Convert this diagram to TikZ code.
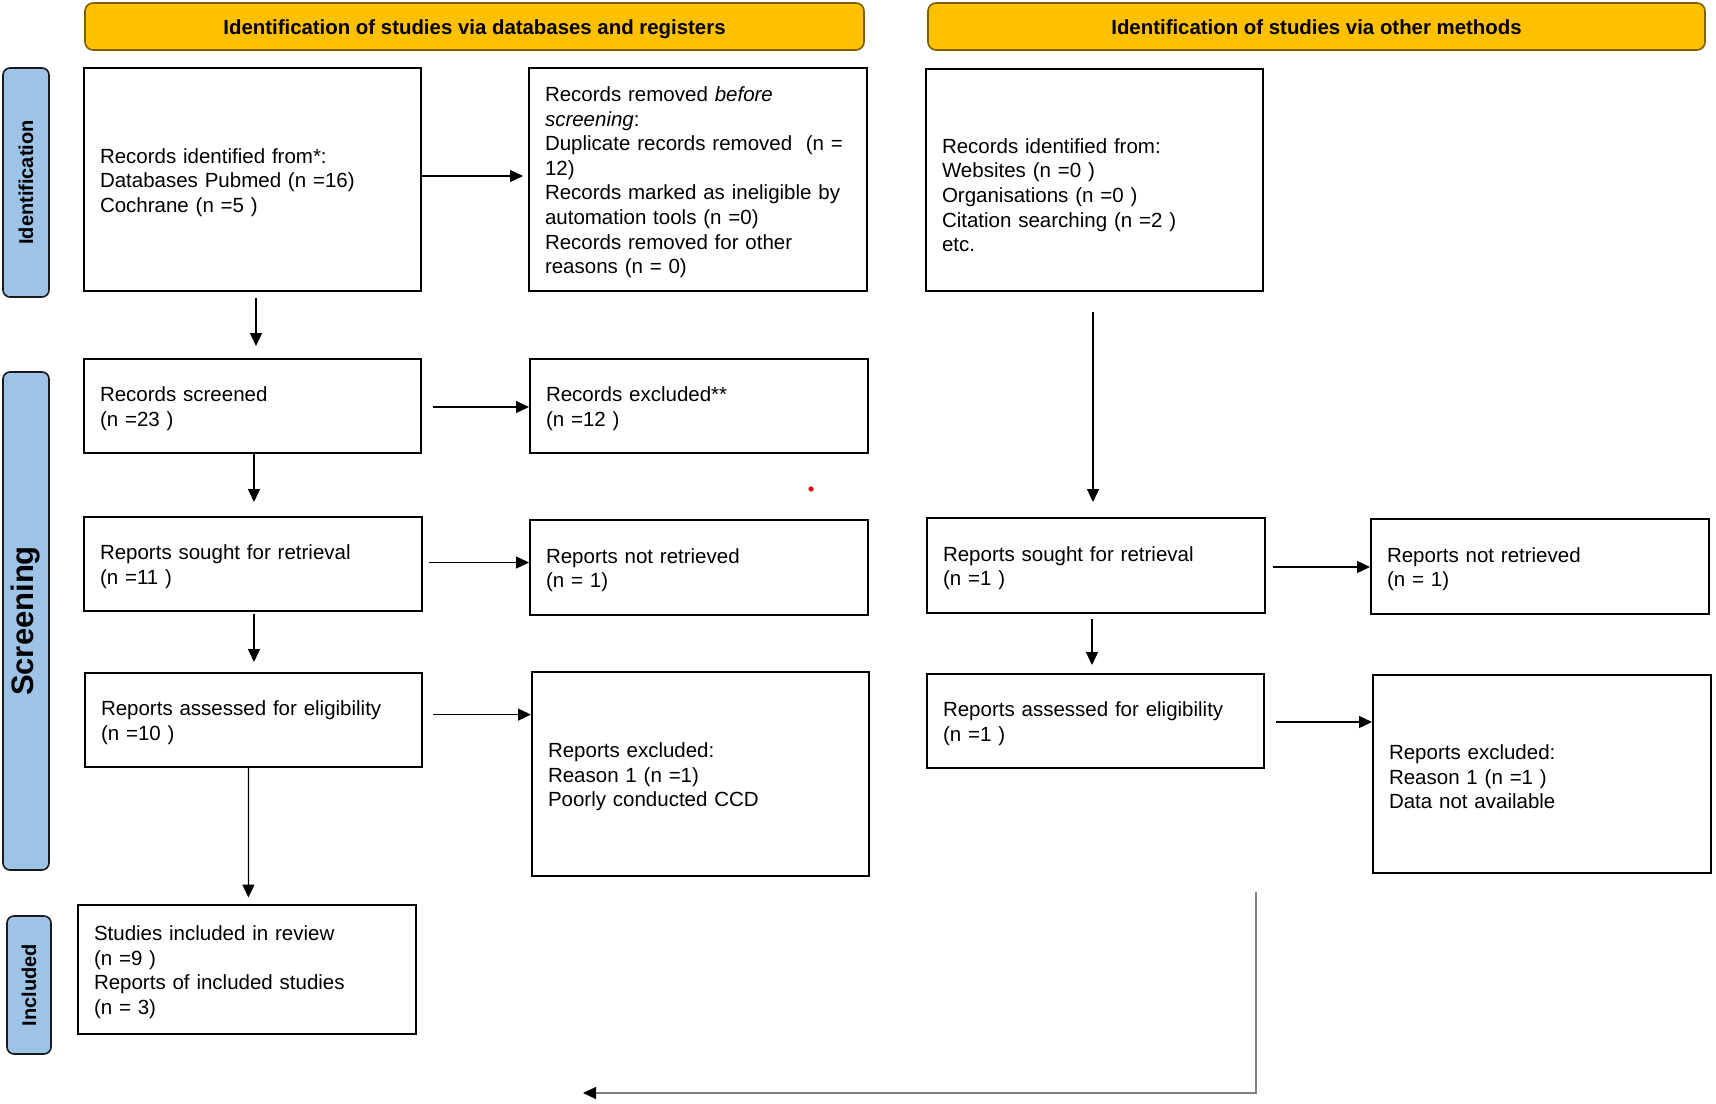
\documentclass[tikz,border=0pt]{standalone}
\usepackage{fontspec}
\setmainfont{Liberation Sans}
\usetikzlibrary{arrows.meta}
\definecolor{hdrfill}{HTML}{FFC000}
\definecolor{hdrdraw}{HTML}{7F6000}
\definecolor{sidefill}{HTML}{9DC3E6}
\definecolor{sidedraw}{HTML}{1A1A1A}
\definecolor{graylink}{HTML}{808080}
\newcommand{\boxstrut}{\rule{0pt}{20.5pt}}
\tikzset{
  txt/.style={font=\fontsize{20.5}{24.6}\selectfont},
  flowbox/.style={draw, line width=2pt, fill=white, txt, align=left, inner xsep=16pt, inner ysep=0pt},
  hdr/.style={draw=hdrdraw, fill=hdrfill, line width=1.6pt, rounded corners=8pt},
  hdrtext/.style={font=\fontsize{20.4}{24}\selectfont\bfseries, anchor=base},
  side/.style={draw=sidedraw, fill=sidefill, line width=1.6pt, rounded corners=7pt},
  arr/.style={line width=1.3pt, -{Triangle[length=13pt,width=12pt]}}
}
\begin{document}
\begin{tikzpicture}[x=1pt,y=-1pt]
\useasboundingbox (0,0) rectangle (1716,1103);

% headers
\draw[hdr] (85,3) rectangle (864,50);
\node[hdrtext] (h1) at (474.5,34.5) {Identification of studies via databases and registers};
\draw[hdr] (928,3) rectangle (1705,50);
\node[hdrtext] (h2) at (1316.5,34.5) {Identification of studies via other methods};

% side labels
\draw[side] (3,68) rectangle (49,297);
\node[rotate=90, font=\fontsize{20}{24}\selectfont\bfseries] (s1) at (26,182.5) {Identification};
\draw[side] (3,372) rectangle (49,870);
\node[rotate=90, font=\fontsize{31}{36}\selectfont\bfseries] (s2) at (26,621) {Screening};
\draw[side] (7,916) rectangle (51,1054);
\node[rotate=90, font=\fontsize{20}{24}\selectfont\bfseries] (s3) at (29,985) {Included};

% left column boxes
\node[flowbox, minimum width=337pt, minimum height=223pt, text width=305pt] (A) at (252.5,179.5)
  {\boxstrut Records identified from*:\\Databases Pubmed (n =16)\\Cochrane (n =5 )};
\node[flowbox, minimum width=338pt, minimum height=223pt, text width=306pt] (B) at (698,179.5)
  {\boxstrut Records removed \textit{before}\\\textit{screening}:\\Duplicate records removed\ \ (n =\\12)\\Records marked as ineligible by\\automation tools (n =0)\\Records removed for other\\reasons (n = 0)};
\node[flowbox, minimum width=337pt, minimum height=222pt, text width=305pt] (C) at (1094.5,180)
  {\boxstrut\\Records identified from:\\Websites (n =0 )\\Organisations (n =0 )\\Citation searching (n =2 )\\etc.};

\node[flowbox, minimum width=337pt, minimum height=94pt, text width=305pt] (D) at (252.5,406)
  {\boxstrut Records screened\\(n =23 )};
\node[flowbox, minimum width=338pt, minimum height=94pt, text width=306pt] (E) at (699,406)
  {\boxstrut Records excluded**\\(n =12 )};
\node[flowbox, minimum width=338pt, minimum height=94pt, text width=306pt] (F) at (253,564)
  {\boxstrut Reports sought for retrieval\\(n =11 )};
\node[flowbox, minimum width=338pt, minimum height=95pt, text width=306pt] (G) at (699,567.5)
  {\boxstrut Reports not retrieved\\(n = 1)};
\node[flowbox, minimum width=337pt, minimum height=94pt, text width=305pt] (H) at (253.5,720)
  {\boxstrut Reports assessed for eligibility\\(n =10 )};
\node[flowbox, minimum width=337pt, minimum height=204pt, text width=305pt] (I) at (700.5,774)
  {\boxstrut Reports excluded:\\Reason 1 (n =1)\\Poorly conducted CCD};
\node[flowbox, minimum width=338pt, minimum height=129pt, text width=306pt] (J) at (247,969.5)
  {\boxstrut Studies included in review\\(n =9 )\\Reports of included studies\\(n = 3)};

% right column boxes
\node[flowbox, minimum width=338pt, minimum height=95pt, text width=306pt] (K) at (1096,565.5)
  {\boxstrut Reports sought for retrieval\\(n =1 )};
\node[flowbox, minimum width=338pt, minimum height=95pt, text width=306pt] (L) at (1540,566.5)
  {\boxstrut Reports not retrieved\\(n = 1)};
\node[flowbox, minimum width=337pt, minimum height=94pt, text width=305pt] (M) at (1095.5,721)
  {\boxstrut Reports assessed for eligibility\\(n =1 )};
\node[flowbox, minimum width=338pt, minimum height=198pt, text width=306pt] (N) at (1542,774)
  {\boxstrut Reports excluded:\\Reason 1 (n =1 )\\Data not available};

% arrows
\draw[arr] ([yshift=3.5pt]A.east) -- ([xshift=-5pt,yshift=3.5pt]B.west);
\draw[arr] ([xshift=3.5pt,yshift=-6pt]A.south) -- ([xshift=3.5pt,yshift=12pt]D.north);
\draw[arr] ([xshift=11pt,yshift=-1pt]D.east) -- ([yshift=-1pt]E.west);
\draw[arr] ([xshift=1.5pt]D.south) -- ([xshift=1pt,yshift=14pt]F.north);
\draw[arr] ([xshift=6pt,yshift=1.5pt]F.east) -- ([yshift=5pt]G.west);
\draw[arr] ([xshift=1pt,yshift=-2pt]F.south) -- ([xshift=0.5pt,yshift=10pt]H.north);
\draw[arr] ([xshift=10pt,yshift=5.4pt]H.east) -- ([yshift=59.4pt]I.west);
\draw[arr] ([xshift=-5pt]H.south) -- ([xshift=1.4pt,yshift=6.5pt]J.north);
\draw[arr] ([xshift=-1.5pt,yshift=-20pt]C.south) -- ([xshift=-3pt,yshift=15pt]K.north);
\draw[arr] ([xshift=7pt,yshift=-1.5pt]K.east) -- ([yshift=-0.5pt]L.west);
\draw[arr] ([xshift=-4pt,yshift=-5pt]K.south) -- ([xshift=-3.5pt,yshift=8pt]M.north);
\draw[arr] ([xshift=11pt,yshift=-1pt]M.east) -- ([yshift=52pt]N.west);

% bottom gray connector
\coordinate (b1) at (1256.4,892);
\coordinate (b2) at (1256.4,1093);
\coordinate (b3) at (583,1093);
\draw[draw=graylink, line width=2pt] (b1) -- (b2) -- ([xshift=10pt]b3);
\draw[line width=1pt, -{Triangle[length=13pt,width=12pt]}] ([xshift=12pt]b3) -- (b3);

% stray red dot
\fill[red] (811,489) circle (2.6pt);
\end{tikzpicture}
\end{document}
